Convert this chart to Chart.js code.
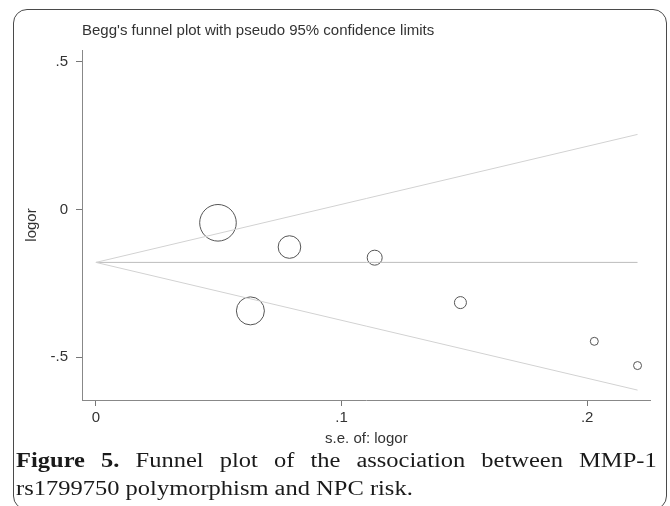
<!DOCTYPE html>
<html><head><meta charset="utf-8">
<script src="https://cdn.jsdelivr.net/npm/chart.js@4.4.0/dist/chart.umd.min.js"></script>
<style>
html,body{margin:0;padding:0;background:#fff;}
#wrap{position:relative;width:670px;height:506px;overflow:hidden;background:#fff;}
#c{position:absolute;left:0;top:0;}
#frame{position:absolute;left:13px;top:9px;width:654px;height:501px;border:1.5px solid #4a4a4a;border-radius:14px;pointer-events:none;box-sizing:border-box;}
#cap{position:absolute;left:16px;top:446px;width:523px;transform:scaleX(1.225);transform-origin:0 0;background:#fff;font-family:"Liberation Serif","Times New Roman",serif;font-size:20px;line-height:28px;color:#1a1a1a;}
#cap .l1{text-align:justify;text-align-last:justify;}
</style></head>
<body><div id="wrap">
<canvas id="c" width="670" height="506"></canvas>
<div id="frame"></div>
<div id="cap"><div class="l1"><b>Figure 5.</b> Funnel plot of the association between MMP-1</div><div>rs1799750 polymorphism and NPC risk.</div></div>
</div>
<script>
const titleText = "Begg's funnel plot with pseudo 95% confidence limits";
const xTitle = "s.e. of: logor";
const yTitle = "logor";
const studySE = [0.0497, 0.0788, 0.0629, 0.1135, 0.1484, 0.2029, 0.2205];
const studyLogOR = [-0.045, -0.127, -0.343, -0.163, -0.315, -0.446, -0.528];
const studyRadius = [18.3, 11.3, 14, 7.5, 6, 4, 4];
const limitSE = [0, 0.2205];
const upperLimit = [-0.179, 0.254];
const lowerLimit = [-0.179, -0.611];
const pooledLine = [-0.179, -0.179];
const xTicks = [0, 0.1, 0.2];
const yTicks = [-0.5, 0, 0.5];

const fmt = v => v === 0 ? '0' : (v < 0 ? '-' : '') + String(Math.abs(v)).replace(/^0/, '');
const pts = (xs, ys) => xs.map((x, i) => ({x: x, y: ys[i]}));

const titlePlugin = {
  id: 'stataTitle',
  afterDraw(chart) {
    const {ctx, chartArea} = chart;
    ctx.save();
    ctx.font = '15px "Liberation Sans", Arial, sans-serif';
    ctx.fillStyle = '#333';
    ctx.textAlign = 'left';
    ctx.textBaseline = 'middle';
    ctx.fillText(titleText, chartArea.left, 31);
    ctx.restore();
  }
};

const axisFont = {family: '"Liberation Sans", Arial, sans-serif', size: 15};

new Chart(document.getElementById('c'), {
  data: {
    datasets: [
      {type: 'line', data: pts(limitSE, upperLimit), borderColor: '#d2d2d2', borderWidth: 1, pointRadius: 0, fill: false},
      {type: 'line', data: pts(limitSE, lowerLimit), borderColor: '#d2d2d2', borderWidth: 1, pointRadius: 0, fill: false},
      {type: 'line', data: pts(limitSE, pooledLine), borderColor: '#bcbcbc', borderWidth: 1, pointRadius: 0, fill: false},
      {type: 'bubble', data: studySE.map((x, i) => ({x: x, y: studyLogOR[i], r: studyRadius[i]})),
       borderColor: '#555', borderWidth: 1, backgroundColor: 'rgba(0,0,0,0)'}
    ]
  },
  options: {
    responsive: false,
    animation: false,
    devicePixelRatio: 1,
    layout: {padding: {left: 0, top: 50, right: 15, bottom: 0}},
    plugins: {legend: {display: false}, tooltip: {enabled: false}, title: {display: false}},
    scales: {
      x: {
        type: 'linear', position: 'bottom',
        min: -0.005657, max: 0.22586,
        afterFit: s => { s.height = 106; },
        afterBuildTicks: s => { s.ticks = xTicks.map(v => ({value: v})); },
        grid: {display: true, drawOnChartArea: false, drawTicks: true, tickLength: 6, tickColor: '#777'},
        border: {display: true, color: '#888', width: 1},
        ticks: {callback: v => fmt(v), color: '#333', font: axisFont, padding: 3, maxRotation: 0, autoSkip: false},
        title: {display: true, text: xTitle, color: '#333', font: axisFont, padding: {top: 0, bottom: 58}}
      },
      y: {
        type: 'linear', position: 'left',
        min: -0.6445, max: 0.5396,
        afterFit: s => { s.width = 82; },
        afterBuildTicks: s => { s.ticks = yTicks.map(v => ({value: v})); },
        grid: {display: true, drawOnChartArea: false, drawTicks: true, tickLength: 6, tickColor: '#777'},
        border: {display: true, color: '#888', width: 1},
        ticks: {callback: v => fmt(v), color: '#333', font: axisFont, padding: 8, autoSkip: false},
        title: {display: true, text: yTitle, color: '#333', font: axisFont, padding: {top: 23, bottom: 0}}
      }
    }
  },
  plugins: [titlePlugin]
});
</script>
</body></html>
